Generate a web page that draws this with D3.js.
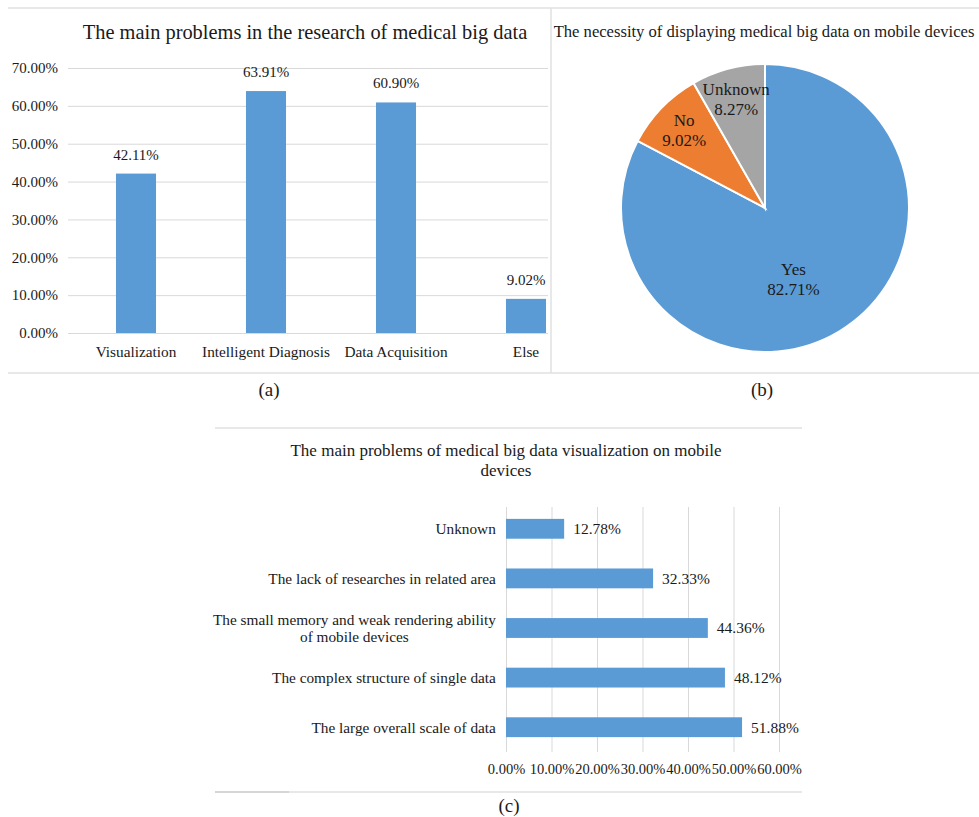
<!DOCTYPE html>
<html>
<head>
<meta charset="utf-8">
<script src="https://cdn.jsdelivr.net/npm/d3@7/dist/d3.min.js"></script>
<style>
  html, body { margin: 0; padding: 0; background: #fff; }
  svg text { font-family: "Liberation Serif", "Times New Roman", serif; }
</style>
</head>
<body>
<svg id="chart" width="979" height="817"></svg>
<script>
// ---------- DATA ----------
const barCategories = ["Visualization", "Intelligent Diagnosis", "Data Acquisition", "Else"];
const barValues = [42.11, 63.91, 60.90, 9.02];
const barTicks = [0, 10, 20, 30, 40, 50, 60, 70];

const pieLabels = ["Yes", "No", "Unknown"];
const pieValues = [82.71, 9.02, 8.27];

const hbarCategories = [
  ["Unknown"],
  ["The lack of researches in related area"],
  ["The small memory and weak rendering ability", "of mobile devices"],
  ["The complex structure of single data"],
  ["The large overall scale of data"]
];
const hbarValues = [12.78, 32.33, 44.36, 48.12, 51.88];
const hbarTicks = [0, 10, 20, 30, 40, 50, 60];

const titles = [
  "The main problems in the research of medical big data",
  "The necessity of displaying medical big data on mobile devices",
  "The main problems of medical big data visualization on mobile",
  "devices"
];
const captions = ["(a)", "(b)", "(c)"];

// ---------- STYLE ----------
const BLUE = "#5B9BD5", ORANGE = "#ED7D31", GRAY = "#A5A5A5";
const GRID = "#d9d9d9", BORDER = "#e0e0e0", TXT = "#1a1a1a";
const pct = d => d3.format(".2f")(d) + "%";

const svg = d3.select("#chart");

// ---------- PANEL BORDERS ----------
const borders = svg.append("g").attr("stroke", BORDER).attr("stroke-width", 1.5);
borders.append("line").attr("x1", 8).attr("x2", 979).attr("y1", 8).attr("y2", 8);
borders.append("line").attr("x1", 8).attr("x2", 979).attr("y1", 373).attr("y2", 373);
borders.append("line").attr("x1", 551).attr("x2", 551).attr("y1", 8).attr("y2", 373);
borders.append("line").attr("x1", 215).attr("x2", 802).attr("y1", 428).attr("y2", 428);
borders.append("line").attr("x1", 215).attr("x2", 802).attr("y1", 792).attr("y2", 792);
svg.append("line").attr("x1", 215).attr("x2", 289).attr("y1", 792).attr("y2", 792)
  .attr("stroke", "#d0d0d0").attr("stroke-width", 1.5);

// ---------- (a) VERTICAL BAR CHART ----------
const ga = svg.append("g");
const yA = d3.scaleLinear().domain([0, 70]).range([333, 68]);
const xA = d3.scaleBand().domain(barCategories).range([71, 591]).paddingInner(0.692).paddingOuter(0.346);

ga.append("text").attr("x", 305).attr("y", 39).attr("text-anchor", "middle")
  .attr("font-size", 20.4).attr("fill", TXT).text(titles[0]);

const yAxisA = d3.axisLeft(yA).tickValues(barTicks).tickFormat(pct)
  .tickSizeInner(-(548 - 68)).tickSizeOuter(0).tickPadding(10);
const yAx = ga.append("g").attr("transform", "translate(68,0)").call(yAxisA);
yAx.select(".domain").remove();
yAx.selectAll(".tick line").attr("stroke", GRID);
yAx.selectAll(".tick text").attr("font-size", 15).attr("fill", TXT);

ga.selectAll("rect.bar").data(barValues).join("rect").attr("class", "bar")
  .attr("x", (d, i) => xA(barCategories[i]))
  .attr("width", xA.bandwidth())
  .attr("y", d => yA(d))
  .attr("height", d => yA(0) - yA(d))
  .attr("fill", BLUE);

ga.selectAll("text.val").data(barValues).join("text").attr("class", "val")
  .attr("x", (d, i) => xA(barCategories[i]) + xA.bandwidth() / 2)
  .attr("y", d => yA(d) - 14)
  .attr("text-anchor", "middle").attr("font-size", 15).attr("fill", TXT)
  .text(pct);

ga.selectAll("text.cat").data(barCategories).join("text").attr("class", "cat")
  .attr("x", d => xA(d) + xA.bandwidth() / 2)
  .attr("y", 357)
  .attr("text-anchor", "middle").attr("font-size", 15.3).attr("fill", TXT)
  .text(d => d);

// ---------- (b) PIE CHART ----------
const gb = svg.append("g");
gb.append("text").attr("x", 764).attr("y", 37).attr("text-anchor", "middle")
  .attr("font-size", 16.6).attr("fill", TXT).text(titles[1]);

const R = 144, cx = 765, cy = 208;
const pie = d3.pie().sort(null).value(d => d)(pieValues);
const arc = d3.arc().innerRadius(0).outerRadius(R);
const pieColors = [BLUE, ORANGE, GRAY];
const gp = gb.append("g").attr("transform", `translate(${cx},${cy})`);
gp.selectAll("path").data(pie).join("path")
  .attr("d", arc)
  .attr("fill", (d, i) => pieColors[i])
  .attr("stroke", "#fff").attr("stroke-width", 2);

const labelArcBig = d3.arc().innerRadius(R * 0.53).outerRadius(R * 0.53);
const labelArcSmall = d3.arc().innerRadius(R * 0.78).outerRadius(R * 0.78);
pie.forEach((d, i) => {
  const big = (d.endAngle - d.startAngle) > Math.PI;
  const c = (big ? labelArcBig : labelArcSmall).centroid(d);
  const t = gp.append("text").attr("text-anchor", "middle").attr("font-size", 17).attr("fill", TXT)
    .attr("transform", `translate(${c[0] - (big ? 11 : 0)},${c[1] + (big ? 6 : 0)})`);
  t.append("tspan").attr("x", 0).attr("y", -4).text(pieLabels[i]);
  t.append("tspan").attr("x", 0).attr("y", 16).text(pct(pieValues[i]));
});

// ---------- captions ----------
svg.append("text").attr("x", 269).attr("y", 396).attr("text-anchor", "middle")
  .attr("font-size", 19).attr("fill", TXT).text(captions[0]);
svg.append("text").attr("x", 762).attr("y", 396).attr("text-anchor", "middle")
  .attr("font-size", 19).attr("fill", TXT).text(captions[1]);
svg.append("text").attr("x", 509).attr("y", 812).attr("text-anchor", "middle")
  .attr("font-size", 19).attr("fill", TXT).text(captions[2]);

// ---------- (c) HORIZONTAL BAR CHART ----------
const gc = svg.append("g");
gc.append("text").attr("x", 506).attr("y", 456).attr("text-anchor", "middle")
  .attr("font-size", 17).attr("fill", TXT).text(titles[2]);
gc.append("text").attr("x", 506).attr("y", 476).attr("text-anchor", "middle")
  .attr("font-size", 17).attr("fill", TXT).text(titles[3]);

const xC = d3.scaleLinear().domain([0, 60]).range([506, 779]);
const yC = d3.scaleBand().domain(d3.range(hbarValues.length)).range([504, 752]).paddingInner(0.6).paddingOuter(0.3);

const xAxisC = d3.axisBottom(xC).tickValues(hbarTicks).tickFormat(pct)
  .tickSizeInner(-(752 - 507)).tickSizeOuter(0).tickPadding(12);
const xAx = gc.append("g").attr("transform", "translate(0,752)").call(xAxisC);
xAx.select(".domain").remove();
xAx.selectAll(".tick line").attr("stroke", GRID);
xAx.selectAll(".tick text").attr("font-size", 14.5).attr("fill", TXT);

gc.selectAll("rect.hbar").data(hbarValues).join("rect").attr("class", "hbar")
  .attr("x", xC(0))
  .attr("y", (d, i) => yC(i))
  .attr("width", d => xC(d) - xC(0))
  .attr("height", yC.bandwidth())
  .attr("fill", BLUE);

gc.selectAll("text.hval").data(hbarValues).join("text").attr("class", "hval")
  .attr("x", d => xC(d) + 9)
  .attr("y", (d, i) => yC(i) + yC.bandwidth() / 2)
  .attr("dy", "0.35em").attr("font-size", 15.5).attr("fill", TXT)
  .text(pct);

hbarCategories.forEach((lines, i) => {
  const yc = yC(i) + yC.bandwidth() / 2;
  const t = gc.append("text").attr("font-size", 15.3).attr("fill", TXT).attr("text-anchor", "middle");
  const lh = 17;
  lines.forEach((ln, k) => {
    t.append("tspan").attr("x", 0).attr("y", yc + (k - (lines.length - 1) / 2) * lh).attr("dy", "0.35em").text(ln);
  });
  const w = t.node().getBBox().width;
  t.attr("transform", `translate(${496 - w / 2},0)`);
});
</script>
</body>
</html>
